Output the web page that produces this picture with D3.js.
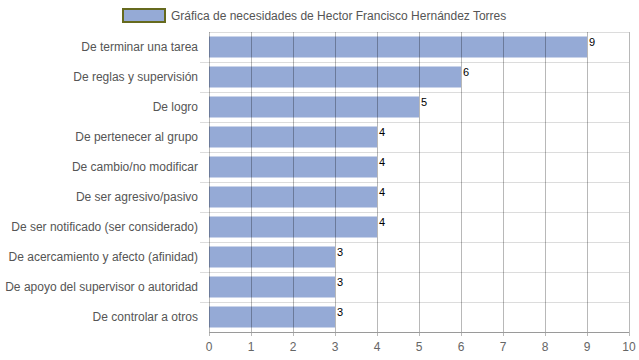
<!DOCTYPE html>
<html>
<head>
<meta charset="utf-8">
<script src="https://cdn.jsdelivr.net/npm/d3@7"></script>
<style>
  body { margin: 0; background: white; }
  text { font-family: "Liberation Sans", Arial, sans-serif; }
</style>
</head>
<body>
<div class="chart"></div>
<script>
    var categories = ["De terminar una tarea", "De reglas y supervisión", "De logro",
                      "De pertenecer al grupo", "De cambio/no modificar", "De ser agresivo/pasivo",
                      "De ser notificado (ser considerado)", "De acercamiento y afecto (afinidad)",
                      "De apoyo del supervisor o autoridad", "De controlar a otros"];
    var values = [9, 6, 5, 4, 4, 4, 4, 3, 3, 3];
    var xTicks = [0, 1, 2, 3, 4, 5, 6, 7, 8, 9, 10];
    var seriesName = "Gráfica de necesidades de Hector Francisco Hernández Torres";

    var svg = d3.select(".chart")
                .append("svg")
                .attr("width", 639)
                .attr("height", 360)
                .style("background-color", "white");

    var x = d3.scaleLinear().domain([0, 10]).range([209, 629]);
    var y = d3.scaleBand().domain(categories).range([32, 332]).paddingInner(0.3).paddingOuter(0.15);

    // row separators
    var bounds = d3.range(categories.length).map(function(i) { return 32 + i * 30; });
    svg.selectAll(".sep")
       .data(bounds)
       .enter().append("line")
       .attr("x1", function(d, i) { return i == 0 ? 209 : 200; })
       .attr("x2", 629)
       .attr("y1", function(d) { return d + 0.5; })
       .attr("y2", function(d) { return d + 0.5; })
       .attr("stroke", "#dcdcdc")
       .attr("stroke-width", 1);

    // bars
    svg.selectAll(".bar")
       .data(values)
       .enter().append("rect")
       .attr("x", x(0))
       .attr("y", function(d, i) { return y(categories[i]); })
       .attr("width", function(d) { return x(d) - x(0); })
       .attr("height", y.bandwidth())
       .attr("fill", "#95aad6");

    // vertical grid lines over bars
    svg.selectAll(".vgrid")
       .data(xTicks)
       .enter().append("line")
       .attr("x1", function(d) { return Math.round(x(d)) + 0.5; })
       .attr("x2", function(d) { return Math.round(x(d)) + 0.5; })
       .attr("y1", 32)
       .attr("y2", 336)
       .attr("stroke", "rgba(0,0,0,0.28)")
       .attr("stroke-width", 1);

    // bottom axis line
    svg.append("line")
       .attr("x1", 209)
       .attr("x2", 629)
       .attr("y1", 332.5)
       .attr("y2", 332.5)
       .attr("stroke", "#9a9a9a");

    // x tick labels
    svg.selectAll(".xlab")
       .data(xTicks)
       .enter().append("text")
       .attr("x", function(d) { return x(d); })
       .attr("y", 351)
       .attr("text-anchor", "middle")
       .style("font-size", "12px")
       .style("fill", "#666")
       .text(function(d) { return d; });

    // category labels
    svg.selectAll(".ylab")
       .data(categories)
       .enter().append("text")
       .attr("x", 198)
       .attr("y", function(d) { return y(d) + y.bandwidth() / 2 + 4; })
       .attr("text-anchor", "end")
       .style("font-size", "12px")
       .style("fill", "#555")
       .text(function(d) { return d; });

    // value labels
    svg.selectAll(".val")
       .data(values)
       .enter().append("text")
       .attr("x", function(d) { return x(d) + 2; })
       .attr("y", function(d, i) { return y(categories[i]) + 9; })
       .style("font-size", "11px")
       .style("fill", "#000")
       .text(function(d) { return d; });

    // legend
    svg.append("rect")
       .attr("x", 123)
       .attr("y", 9)
       .attr("width", 42)
       .attr("height", 13)
       .attr("fill", "#95aad6")
       .attr("stroke", "#666a1e")
       .attr("stroke-width", 2);
    svg.append("text")
       .attr("x", 171)
       .attr("y", 20)
       .style("font-size", "12px")
       .style("fill", "#555")
       .text(seriesName);
</script>
</body>
</html>
